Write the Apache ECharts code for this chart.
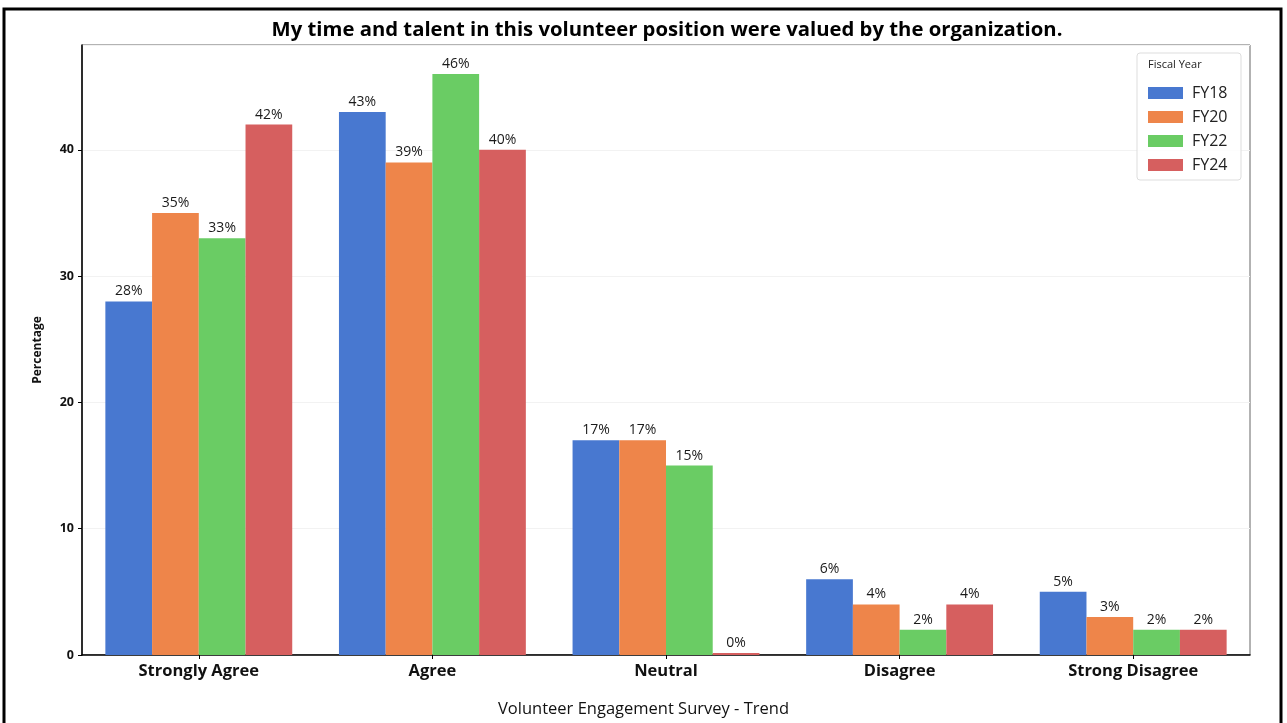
<!DOCTYPE html>
<html>
<head>
<meta charset="utf-8">
<script src="https://cdn.jsdelivr.net/npm/echarts@6/dist/echarts.min.js"></script>
<style>
html,body{margin:0;padding:0;background:#fff;}
#chart{width:1287px;height:723px;}
</style>
</head>
<body>
<div id="chart"></div>
<script>
const categories = ['Strongly Agree', 'Agree', 'Neutral', 'Disagree', 'Strong Disagree'];
const seriesNames = ['FY18', 'FY20', 'FY22', 'FY24'];
const fy18 = [28, 43, 17, 6, 5];
const fy20 = [35, 39, 17, 4, 3];
const fy22 = [33, 46, 15, 2, 2];
const fy24 = [42, 40, 0, 4, 2];
const yTicks = [0, 10, 20, 30, 40];
const colors = ['#4878d0', '#ee854a', '#6acc64', '#d65f5f'];

const FONT = '"Open Sans", "Noto Sans", sans-serif';
const chart = echarts.init(document.getElementById('chart'), null, {renderer: 'canvas'});
const values = [fy18, fy20, fy22, fy24];

const option = {
  animation: false,
  backgroundColor: '#fff',
  textStyle: {fontFamily: FONT},
  title: {
    text: 'My time and talent in this volunteer position were valued by the organization.',
    left: 662, top: 15, textAlign: 'center',
    textStyle: {fontFamily: FONT, fontWeight: 'bold', fontSize: 20.3, color: '#000'}
  },
  legend: {
    orient: 'vertical',
    left: 1143, top: 80,
    icon: 'rect',
    itemWidth: 35, itemHeight: 12, itemGap: 8,
    data: seriesNames,
    textStyle: {fontFamily: FONT, fontSize: 16, color: '#222', padding: [0, 0, 0, 4]}
  },
  grid: {left: 82, right: 37, top: 45, bottom: 68, show: true, borderColor: '#666', borderWidth: 1},
  xAxis: {
    type: 'category',
    data: categories,
    axisLine: {lineStyle: {color: '#000', width: 1.5}},
    axisTick: {show: true, alignWithLabel: true, length: 4, lineStyle: {color: '#000'}},
    axisLabel: {fontFamily: FONT, fontWeight: 'bold', fontSize: 16.5, color: '#111', margin: 8}
  },
  yAxis: {
    type: 'value',
    min: 0, max: 48.3, interval: 10,
    name: 'Percentage', nameLocation: 'middle', nameGap: 38,
    nameTextStyle: {fontFamily: FONT, fontWeight: 'bold', fontSize: 12, color: '#111'},
    axisLine: {show: true, lineStyle: {color: '#000', width: 1.5}},
    axisTick: {show: true, length: 4, lineStyle: {color: '#000'}},
    axisLabel: {fontFamily: FONT, fontWeight: 'bold', fontSize: 12.5, color: '#111', showMaxLabel: false, margin: 8,
      formatter: v => yTicks.includes(v) ? String(v) : ''},
    splitLine: {show: true, lineStyle: {color: '#f2f2f2', width: 1}}
  },
  graphic: [
    {type: 'rect', shape: {x: 4, y: 9, width: 1277, height: 730}, style: {fill: 'none', stroke: '#000', lineWidth: 3}, silent: true, z: 100},
    {type: 'rect', shape: {x: 1137, y: 53, width: 104, height: 127, r: 3}, style: {fill: 'rgba(255,255,255,0.8)', stroke: '#ddd', lineWidth: 1}, z: 1},
    {type: 'text', left: 1148, top: 59, style: {text: 'Fiscal Year', fontFamily: FONT, fontSize: 11, fill: '#222'}, z: 5},
    {type: 'text', left: 'center', top: 701, style: {text: 'Volunteer Engagement Survey - Trend', fontFamily: FONT, fontSize: 16.5, fill: '#111'}}
  ],
  series: seriesNames.map((n, i) => ({
    name: n,
    type: 'bar',
    data: values[i],
    barWidth: '20%',
    barGap: '0%',
    barMinHeight: i === 3 ? 2 : 0,
    itemStyle: {color: colors[i]},
    label: {show: true, position: 'top', distance: 3, formatter: '{c}%', fontFamily: FONT, fontSize: 14, color: '#1a1a1a'}
  }))
};
chart.setOption(option);
</script>
</body>
</html>
